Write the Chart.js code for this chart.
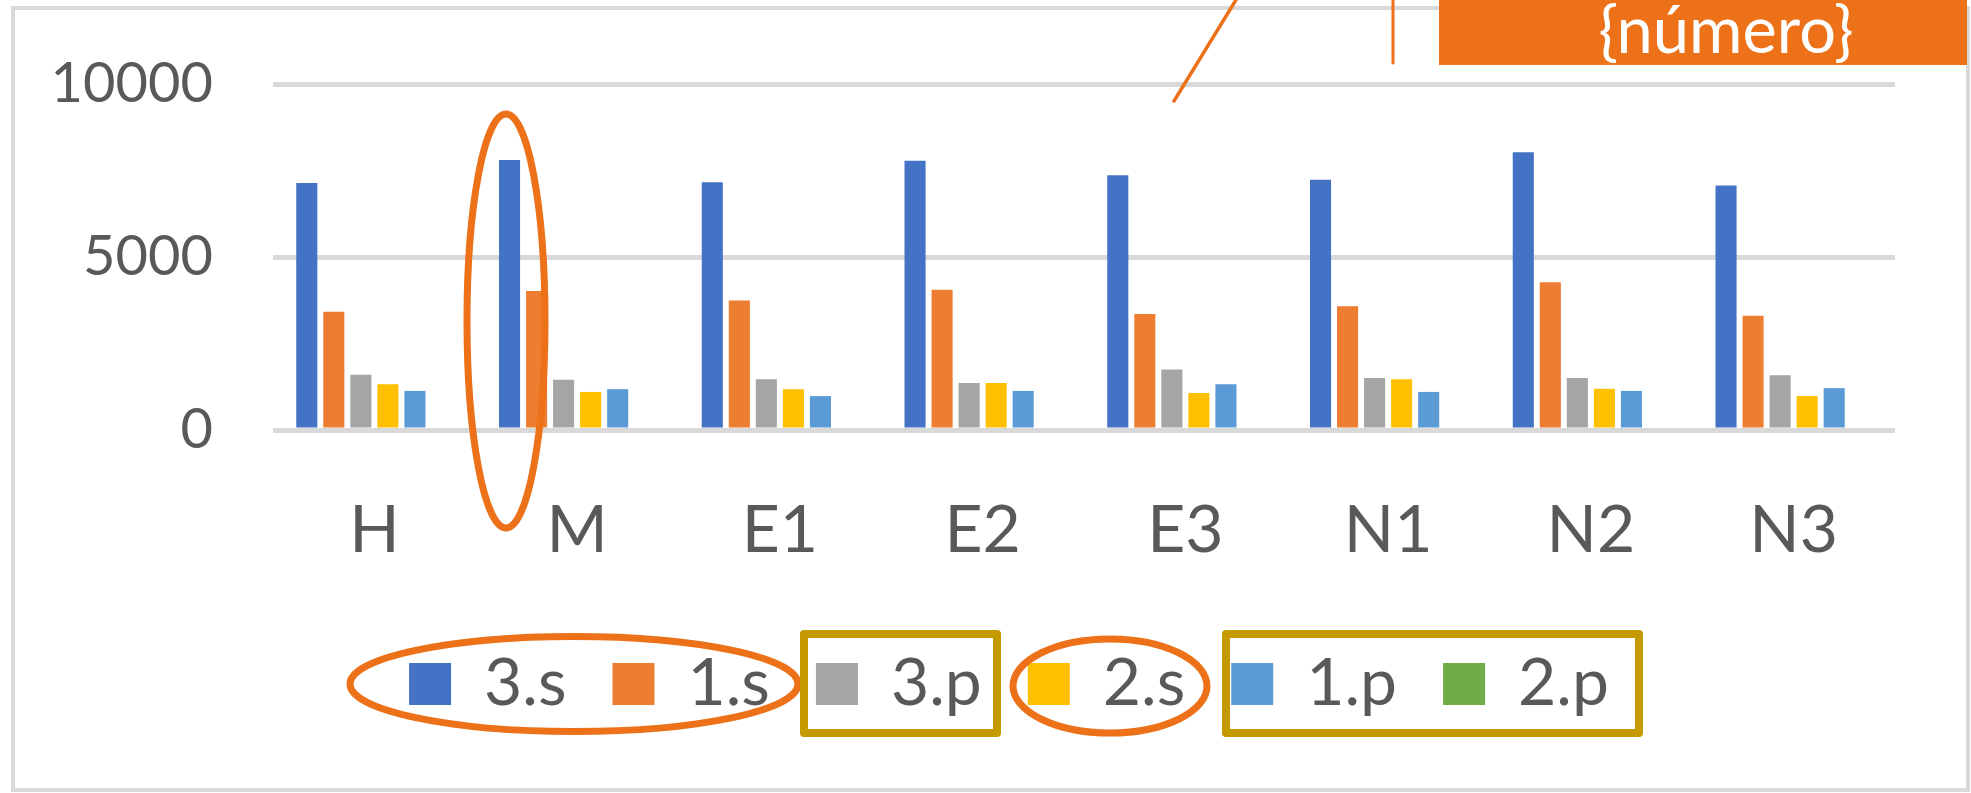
<!DOCTYPE html>
<html>
<head>
<meta charset="utf-8">
<script src="https://cdn.jsdelivr.net/npm/chart.js@4"></script>
<style>
  html, body { margin: 0; padding: 0; background: #ffffff; }
  #wrap { width: 1971px; height: 793px; position: relative; }
  canvas { display: block; }
</style>
</head>
<body>
<div id="wrap"><canvas id="c" width="1971" height="793"></canvas></div>
<script>
// ---- data ----
const categories = ['H', 'M', 'E1', 'E2', 'E3', 'N1', 'N2', 'N3'];
const seriesNames = ['3.s', '1.s', '3.p', '2.s', '1.p', '2.p'];
const s3 = [7140, 7800, 7160, 7780, 7360, 7230, 8030, 7070];
const s1 = [3420, 4020, 3740, 4050, 3350, 3580, 4270, 3300];
const p3 = [1600, 1450, 1470, 1360, 1750, 1500, 1500, 1580];
const s2 = [1320, 1100, 1180, 1360, 1070, 1470, 1190, 980];
const p1 = [1130, 1180, 980, 1130, 1320, 1100, 1130, 1210];
const p2 = [0, 0, 0, 0, 0, 0, 0, 0];
const yTicks = [0, 5000, 10000];
const calloutText = '{número}';

// ---- styles ----
const seriesColors = ['#4472C4', '#ED7D31', '#A5A5A5', '#FFC000', '#5B9BD5', '#70AD47'];
const seriesValues = [s3, s1, p3, s2, p1, p2];
const FONT = 'Lato, "Open Sans", sans-serif';
const TXT = '#595959';
const ORANGE = '#EC7118';
const GOLD = '#C59A00';

const decorations = {
  id: 'decorations',
  afterLayout(chart) {
    const lg = chart.legend;
    if (lg) {
      lg.left += 55; lg.right += 55;
      lg.top -= 4; lg.bottom -= 4;
    }
  },
  beforeDraw(chart) {
    const ctx = chart.ctx;
    ctx.save();
    ctx.fillStyle = '#ffffff';
    ctx.fillRect(0, 0, chart.width, chart.height);
    ctx.strokeStyle = '#D9D9D9';
    ctx.lineWidth = 4;
    ctx.strokeRect(13, 8, 1955, 782);
    ctx.restore();
  },
  afterDraw(chart) {
    const ctx = chart.ctx;
    ctx.save();
    // ellipse around M
    ctx.strokeStyle = ORANGE;
    ctx.lineWidth = 7;
    ctx.beginPath();
    ctx.ellipse(506, 321, 39, 207, 0, 0, Math.PI * 2);
    ctx.stroke();
    // legend ellipses
    ctx.beginPath();
    ctx.ellipse(574, 684, 224, 47.5, 0, 0, Math.PI * 2);
    ctx.stroke();
    ctx.beginPath();
    ctx.ellipse(1110, 686, 97, 47, 0, 0, Math.PI * 2);
    ctx.stroke();
    // gold rectangles
    ctx.strokeStyle = GOLD;
    ctx.lineWidth = 8;
    ctx.lineJoin = 'round';
    ctx.strokeRect(804, 634, 193, 99);
    ctx.strokeRect(1226, 634, 413, 99);
    // callout lines
    ctx.strokeStyle = ORANGE;
    ctx.lineWidth = 3.5;
    ctx.lineCap = 'round';
    ctx.beginPath();
    ctx.moveTo(1174, 101);
    ctx.lineTo(1239, -5);
    ctx.stroke();
    ctx.lineWidth = 3;
    ctx.beginPath();
    ctx.moveTo(1393, -2);
    ctx.lineTo(1393, 63);
    ctx.stroke();
    // callout box
    ctx.fillStyle = ORANGE;
    ctx.fillRect(1439, 0, 528, 65);
    ctx.fillStyle = '#ffffff';
    ctx.font = '65px ' + FONT;
    ctx.textAlign = 'center';
    ctx.textBaseline = 'alphabetic';
    ctx.fillText(calloutText, 1726, 53);
    ctx.restore();
  }
};

const PAD_BOTTOM = 62;
const PLOT_BOTTOM = 430;

new Chart(document.getElementById('c'), {
  type: 'bar',
  data: {
    labels: categories,
    datasets: seriesNames.map((name, i) => ({
      label: name,
      data: seriesValues[i],
      backgroundColor: seriesColors[i],
      borderWidth: 0,
      categoryPercentage: 0.8,
      barPercentage: 0.78
    }))
  },
  options: {
    responsive: false,
    animation: false,
    devicePixelRatio: 1,
    layout: { padding: { left: 13, right: 76, top: 84, bottom: PAD_BOTTOM } },
    plugins: {
      legend: {
        position: 'bottom',
        labels: {
          boxWidth: 42,
          boxHeight: 42,
          padding: 46,
          color: TXT,
          font: { family: FONT, size: 66 }
        }
      },
      tooltip: { enabled: false }
    },
    scales: {
      x: {
        grid: { display: false, drawTicks: false },
        border: { display: false },
        ticks: { color: TXT, font: { family: FONT, size: 66 }, padding: 61, maxRotation: 0 },
        afterFit(scale) {
          const lh = scale.chart.legend ? scale.chart.legend.height : 0;
          scale.height = scale.chart.height - PAD_BOTTOM - lh - PLOT_BOTTOM;
        }
      },
      y: {
        min: 0,
        max: 10000,
        afterBuildTicks(scale) {
          scale.ticks = yTicks.map(v => ({ value: v }));
        },
        grid: { color: '#D9D9D9', lineWidth: 5, drawTicks: false },
        border: { display: false },
        ticks: {
          color: TXT,
          font: { family: FONT, size: 56, lineHeight: 0.4 },
          padding: 60,
          callback: v => String(v)
        },
        afterFit(scale) { scale.width = 260; }
      }
    }
  },
  plugins: [decorations]
});
</script>
</body>
</html>
